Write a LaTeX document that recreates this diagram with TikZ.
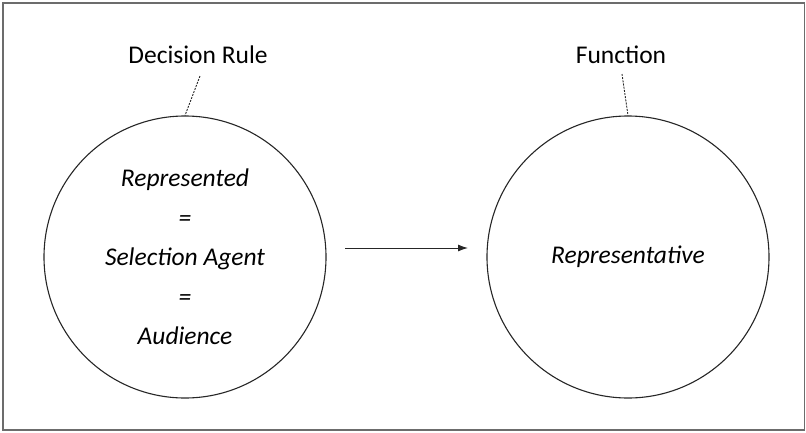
\documentclass[tikz,border=0pt]{standalone}
\usepackage{fontspec}
\setmainfont{Carlito}
\usetikzlibrary{arrows.meta}
\begin{document}
\begin{tikzpicture}[x=1pt,y=-1pt,
  bubble/.style={draw=black!85,line width=1.1pt,circle,minimum size=282pt,inner sep=0pt,
    align=center,font=\fontsize{25.5}{39.5}\selectfont\itshape},
  lbl/.style={font=\fontsize{25.5}{30}\selectfont,inner sep=0pt},
  leader/.style={draw=black!85,line width=0.9pt,dash pattern=on 2pt off 1.2pt},
  arr/.style={draw=black!85,line width=1pt,-{Latex[length=10pt,width=7pt]}}]
\useasboundingbox (0,0) rectangle (806,432);
\draw[gray!85!black,line width=1.5pt] (3,3) rectangle (804.5,430);
\node[bubble] (L) at (185,257) {Represented\\=\\Selection Agent\\=\\Audience};
\node[bubble] (R) at (628,257) {Representative};
\node[lbl] (dr) at (198,55) {Decision Rule};
\node[lbl] (fn) at (621,55) {Function};
\coordinate (drl) at (200,76);
\coordinate (fnl) at (622,74);
\draw[leader] (drl) -- (L.north);
\draw[leader] (fnl) -- (R.north);
\coordinate (a1) at (345,248);
\coordinate (a2) at (468,248);
\draw[arr] (a1) -- (a2);
\end{tikzpicture}
\end{document}
